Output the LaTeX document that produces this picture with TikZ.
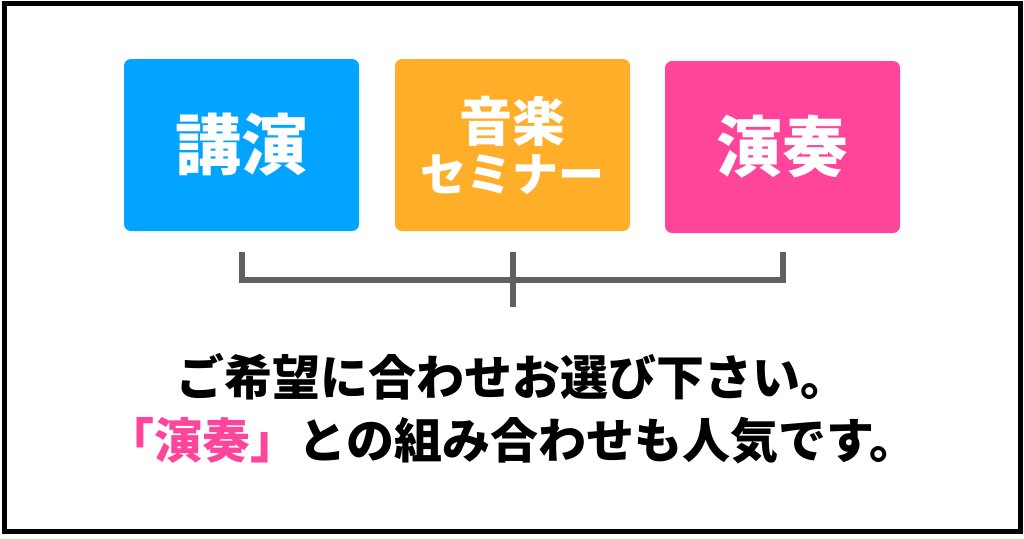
\documentclass[tikz,border=0pt]{standalone}
\usepackage{fontspec}
\newfontfamily\jp{Noto Sans CJK JP}
\definecolor{cblue}{HTML}{02A4FF}
\definecolor{corange}{HTML}{FFAE29}
\definecolor{cpink}{HTML}{FF449B}
\definecolor{cgray}{HTML}{606060}
\tikzset{
  catbox/.style={rounded corners=7pt, minimum width=235pt, minimum height=172pt, inner sep=0pt, text=white, align=center, font=\jp\bfseries},
  bracketline/.style={draw=cgray, line width=6pt},
  caption/.style={font=\jp\bfseries\fontsize{48}{54}\selectfont, inner sep=0pt}
}
\begin{document}
\begin{tikzpicture}[x=1pt,y=-1pt]
\useasboundingbox (0,0) rectangle (1024,538);
\fill[white] (0,0) rectangle (1024,538);
\draw[line width=5pt] (4.5,3.5) rectangle (1020.5,531.5);
\node[catbox, fill=cblue, font=\jp\bfseries\fontsize{66}{66}\selectfont] (b1) at (241.5,145) {講演};
\node[catbox, fill=corange, font=\jp\bfseries\fontsize{50}{50}\selectfont] (b2) at (512.5,145) {{\fontsize{53}{50}\selectfont 音楽}\\{\fontsize{46}{50}\selectfont セミナー}};
\node[catbox, fill=cpink, font=\jp\bfseries\fontsize{66}{66}\selectfont] (b3) at (782.5,147) {演奏};
\coordinate (t1) at ([yshift=-21pt]b1.south);
\coordinate (t2) at ([yshift=-21pt]b2.south);
\coordinate (t3) at ([yshift=-19pt]b3.south);
\coordinate (h1) at ([yshift=-49pt]b1.south);
\coordinate (h3) at ([yshift=-47pt]b3.south);
\coordinate (m) at ([yshift=-76pt]b2.south);
\draw[bracketline] (t1) -- (h1) -- (h3) -- (t3);
\draw[bracketline] (t2) -- (m);
\node[caption] (l1) at (512,377) {ご希望に合わせお選び下さい。};
\node[caption] (l2) at (512,441) {\textcolor{cpink}{「演奏」}との組み合わせも人気です。};
\end{tikzpicture}
\end{document}
